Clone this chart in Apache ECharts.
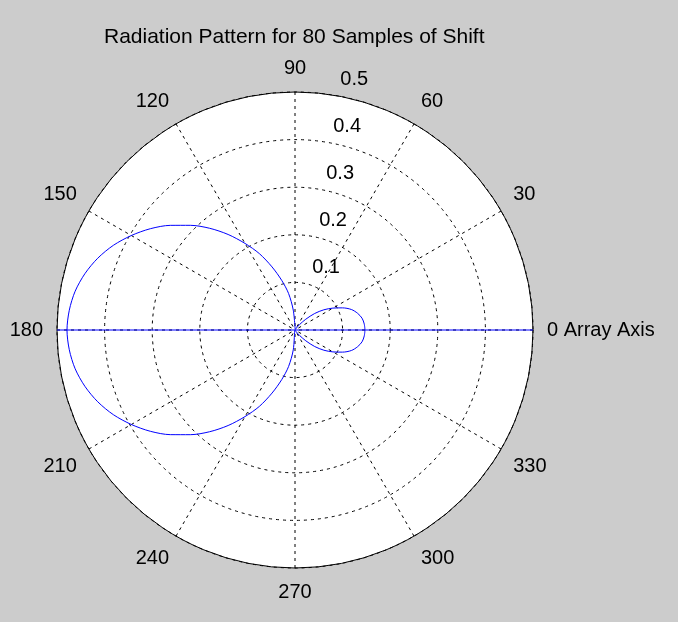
<!DOCTYPE html>
<html>
<head>
<meta charset="utf-8">
<script src="https://cdn.jsdelivr.net/npm/echarts@6/dist/echarts.min.js"></script>
<style>
html,body{margin:0;padding:0;background:#cccccc;}
#chart{width:678px;height:622px;}
</style>
</head>
<body>
<div id="chart"></div>
<script>
// Pattern angles (degrees) and radii
var patternAngles = [
  0, 5, 10, 15, 20, 25, 30, 35, 40, 45, 50, 55, 60, 70, 80, 90,
  95, 100, 105, 110, 115, 120, 125, 130, 135, 140, 145, 150, 155, 160, 165, 170, 175, 180,
  185, 190, 195, 200, 205, 210, 215, 220, 225, 230, 235, 240, 245, 250, 255, 260, 265, 270,
  280, 290, 300, 305, 310, 315, 320, 325, 330, 335, 340, 345, 350, 355, 360
];
var patternRadii = [
  0.147, 0.146, 0.143, 0.136, 0.126, 0.110, 0.092, 0.074, 0.054, 0.032, 0.015, 0.005, 0.001, 0.000, 0.000, 0.000,
  0.042, 0.078, 0.108, 0.141, 0.177, 0.210, 0.245, 0.279, 0.311, 0.342, 0.371, 0.397, 0.421, 0.441, 0.457, 0.469, 0.476, 0.479,
  0.476, 0.469, 0.457, 0.441, 0.421, 0.397, 0.371, 0.342, 0.311, 0.279, 0.245, 0.210, 0.177, 0.141, 0.108, 0.078, 0.042, 0.000,
  0.000, 0.000, 0.001, 0.005, 0.015, 0.032, 0.054, 0.074, 0.092, 0.110, 0.126, 0.136, 0.143, 0.146, 0.147
];
// Array axis line (from 180 to 0 at full radius)
var arrayAxisAngles = [180, 0];
var arrayAxisRadii = [0.5, 0.5];
// Radius ticks
var radiusTicks = [0.1, 0.2, 0.3, 0.4, 0.5];
var angleTickLabels = ['0 Array Axis', '30', '60', '90', '120', '150', '180', '210', '240', '270', '300', '330'];
var titleText = 'Radiation Pattern for 80 Samples of Shift';

var fontFamily = "'Liberation Sans', Arial, Helvetica, sans-serif";
var chart = echarts.init(document.getElementById('chart'), null, {renderer: 'canvas'});

var patternData = patternAngles.map(function (a, i) { return [patternRadii[i], a]; });
var axisLineData = arrayAxisAngles.map(function (a, i) { return [arrayAxisRadii[i], a]; });

var hiddenAngle = function (idx, start) {
  return {
    polarIndex: idx, type: 'value', min: 0, max: 360, startAngle: start, clockwise: false, z: 0,
    axisLine: {show: false}, axisTick: {show: false}, axisLabel: {show: false}, splitLine: {show: false}
  };
};

var option = {
  backgroundColor: '#cccccc',
  animation: false,
  title: {
    text: titleText,
    left: 99,
    top: 22,
    textStyle: {fontFamily: fontFamily, fontSize: 21, fontWeight: 'normal', color: '#000'}
  },
  polar: [
    {center: [295, 330], radius: 238},
    {center: [319, 315], radius: 238},
    {center: [295, 330], radius: 238}
  ],
  angleAxis: [
    {
      polarIndex: 0,
      type: 'value',
      min: 0, max: 360, interval: 30,
      startAngle: 0,
      clockwise: false,
      z: 2,
      axisLine: {show: true, lineStyle: {color: '#000', width: 1}},
      axisTick: {show: false},
      axisLabel: {
        show: true, margin: 14, color: '#000', fontFamily: fontFamily, fontSize: 20,
        formatter: function (v) { return angleTickLabels[Math.round(v / 30) % 12]; }
      },
      splitLine: {show: true, lineStyle: {color: '#000', type: [3, 4], width: 1}}
    },
    hiddenAngle(1, 81.5),
    hiddenAngle(2, 0)
  ],
  radiusAxis: [
    {
      polarIndex: 0,
      type: 'value',
      min: 0, max: 0.5, interval: 0.1,
      z: 2,
      axisLine: {show: false},
      axisTick: {show: false},
      axisLabel: {show: false},
      splitLine: {show: true, lineStyle: {color: '#000', type: [3, 4], width: 1}}
    },
    {
      polarIndex: 1,
      type: 'value',
      min: 0, max: 0.5, interval: 0.1,
      z: 2,
      axisLine: {show: false},
      axisTick: {show: false},
      splitLine: {show: false},
      axisLabel: {
        show: true, margin: 0, align: 'center', verticalAlign: 'middle',
        color: '#000', fontFamily: fontFamily, fontSize: 20,
        showMinLabel: false,
        formatter: function (v) {
          for (var i = 0; i < radiusTicks.length; i++) {
            if (Math.abs(radiusTicks[i] - v) < 1e-9) return String(radiusTicks[i]);
          }
          return '';
        }
      }
    },
    {
      polarIndex: 2,
      type: 'value',
      min: 0, max: 0.5, interval: 0.5,
      z: 0,
      axisLine: {show: false},
      axisTick: {show: false},
      axisLabel: {show: false},
      splitLine: {show: false},
      splitArea: {show: true, areaStyle: {color: ['#ffffff']}}
    }
  ],
  series: [
    {
      type: 'line',
      coordinateSystem: 'polar',
      polarIndex: 0,
      data: axisLineData,
      symbol: 'none',
      lineStyle: {color: '#0000ff', width: 1},
      z: 3
    },
    {
      type: 'line',
      coordinateSystem: 'polar',
      polarIndex: 0,
      data: patternData,
      symbol: 'none',
      smooth: 0.3,
      lineStyle: {color: '#0000ff', width: 1},
      z: 4
    }
  ]
};
chart.setOption(option);
</script>
</body>
</html>
